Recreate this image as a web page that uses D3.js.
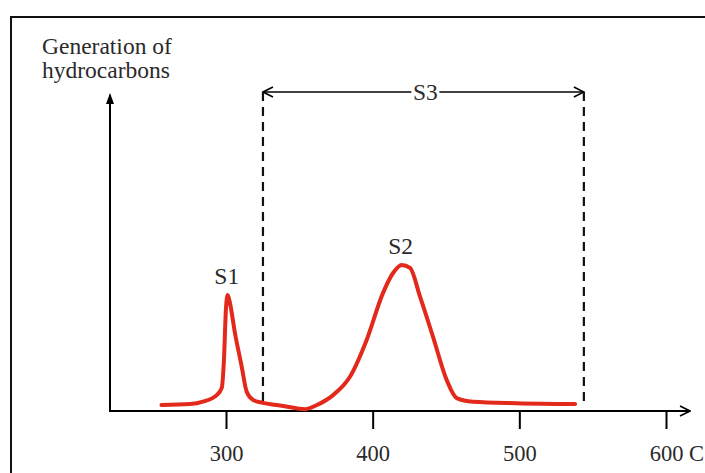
<!DOCTYPE html>
<html>
<head>
<meta charset="utf-8">
<script src="https://cdn.jsdelivr.net/npm/d3@7/dist/d3.min.js"></script>
<style>
  html, body { margin: 0; padding: 0; background: #fff; }
  svg { display: block; }
  text { font-family: "Liberation Serif", "DejaVu Serif", serif; fill: #2a2a2a; }
</style>
</head>
<body>
<svg id="chart" width="705" height="473"></svg>
<script>
// curve: temperature (C) vs generation (arbitrary units)
var temps = [256, 275.5, 284.3, 293.7, 297.1, 298.6, 300, 301.2, 302.7, 306.1, 310.7, 314.1, 318.4, 325.2, 338.9, 354, 362, 373, 384.5, 395.9, 407, 413.9, 419.8, 425.5, 432.3, 441.1, 450.5, 457.3, 468.4, 498.2, 538];
var gen   = [2.0, 2.3, 3.1, 5.3, 7.7, 17, 34.4, 38.7, 36, 26, 14.8, 6.4, 3.7, 2.7, 1.7, 0.6, 2.0, 5.3, 11.4, 23.7, 39.3, 46, 48.7, 47.7, 38.1, 24.8, 10.3, 4.3, 3.1, 2.6, 2.3];
var tickValues = [300, 400, 500, 600];
var tickLabels = ["300", "400", "500", "600"];
var unitLabel = " C";
var peakLabels = ["S1", "S2"];
var peakTemps = [301.2, 419.8];
var s3Range = [325.2, 544];
var yLabel = ["Generation of", "hydrocarbons"];

var svg = d3.select("#chart");

var x = d3.scaleLinear().domain([300, 600]).range([226, 666]);
var y = d3.scaleLinear().domain([0, 100]).range([411, 111]);

var x0 = 110, y0 = 411;

// frame
svg.append("rect")
  .attr("x", 11).attr("y", 17)
  .attr("width", 720).attr("height", 480)
  .attr("fill", "none").attr("stroke", "#111").attr("stroke-width", 2);

var defs = svg.append("defs");
defs.append("marker")
  .attr("id", "chev")
  .attr("viewBox", "0 0 12 12").attr("refX", 11).attr("refY", 6)
  .attr("markerWidth", 12).attr("markerHeight", 12)
  .attr("markerUnits", "userSpaceOnUse")
  .attr("orient", "auto-start-reverse")
  .append("path").attr("d", "M1,1 L11,6 L1,11").attr("fill", "none")
  .attr("stroke", "#000").attr("stroke-width", 1.6);

// y axis
svg.append("line")
  .attr("x1", x0).attr("y1", y0).attr("x2", x0).attr("y2", 95)
  .attr("stroke", "#000").attr("stroke-width", 2);
svg.append("path")
  .attr("d", "M" + x0 + ",93 L" + (x0 - 4) + ",104 L" + (x0 + 4) + ",104 Z")
  .attr("fill", "#000");

// x axis
var xAxis = d3.axisBottom(x)
  .tickValues(tickValues)
  .tickSize(18)
  .tickPadding(16)
  .tickFormat(function(d, i) { return tickLabels[i]; });
var gx = svg.append("g")
  .attr("transform", "translate(0," + y0 + ")")
  .call(xAxis);
gx.select(".domain").remove();
gx.selectAll(".tick line").attr("stroke", "#000").attr("stroke-width", 2);
gx.selectAll(".tick text")
  .attr("font-size", 22.5)
  .attr("font-family", "Liberation Serif")
  .attr("fill", "#2a2a2a");
// unit after the last label, keeping the number centred on its tick
var lastText = gx.selectAll(".tick text").filter(function(d) { return d === 600; });
var numW = lastText.node().getComputedTextLength();
lastText.attr("text-anchor", "start").attr("x", -numW / 2)
  .append("tspan").text(unitLabel);
svg.append("line")
  .attr("x1", x0 - 1).attr("y1", y0).attr("x2", 690).attr("y2", y0)
  .attr("stroke", "#000").attr("stroke-width", 2)
  .attr("marker-end", "url(#chev)");

// y axis label
svg.append("text")
  .attr("x", 42).attr("y", 54)
  .attr("font-size", 23.5)
  .selectAll("tspan").data(yLabel).enter().append("tspan")
  .attr("x", 42).attr("dy", function(d, i) { return i ? 24 : 0; })
  .text(function(d) { return d; });

// S3 dashed bounds
svg.selectAll(".bound").data(s3Range).enter().append("line")
  .attr("class", "bound")
  .attr("x1", function(d) { return x(d); }).attr("x2", function(d) { return x(d); })
  .attr("y1", 92).attr("y2", 407)
  .attr("stroke", "#111").attr("stroke-width", 2.2)
  .attr("stroke-dasharray", "9,6");

// S3 double arrow
var s3mid = (x(s3Range[0]) + x(s3Range[1])) / 2 + 2;
svg.append("line")
  .attr("x1", x(s3Range[0])).attr("y1", 92).attr("x2", s3mid - 14).attr("y2", 92)
  .attr("stroke", "#000").attr("stroke-width", 1.3)
  .attr("marker-start", "url(#chev)");
svg.append("line")
  .attr("x1", s3mid + 14).attr("y1", 92).attr("x2", x(s3Range[1])).attr("y2", 92)
  .attr("stroke", "#000").attr("stroke-width", 1.3)
  .attr("marker-end", "url(#chev)");
svg.append("text")
  .attr("x", s3mid).attr("y", 100)
  .attr("text-anchor", "middle").attr("font-size", 23.5)
  .text("S3");

// curve
var pts = temps.map(function(t, i) { return [t, gen[i]]; });
var line = d3.line()
  .x(function(d) { return x(d[0]); })
  .y(function(d) { return y(d[1]); })
  .curve(d3.curveMonotoneX);
svg.append("path")
  .datum(pts)
  .attr("d", line)
  .attr("fill", "none")
  .attr("stroke", "#e2291b")
  .attr("stroke-width", 4)
  .attr("stroke-linejoin", "round")
  .attr("stroke-linecap", "round");

// peak labels
svg.selectAll(".peak").data(peakLabels).enter().append("text")
  .attr("class", "peak")
  .attr("x", function(d, i) { return x(peakTemps[i]) - 1; })
  .attr("y", function(d, i) { return y(d3.max(gen.filter(function(g, j) { return temps[j] === peakTemps[i]; }))) - 11; })
  .attr("text-anchor", "middle").attr("font-size", 23.5)
  .text(function(d) { return d; });
</script>
</body>
</html>
